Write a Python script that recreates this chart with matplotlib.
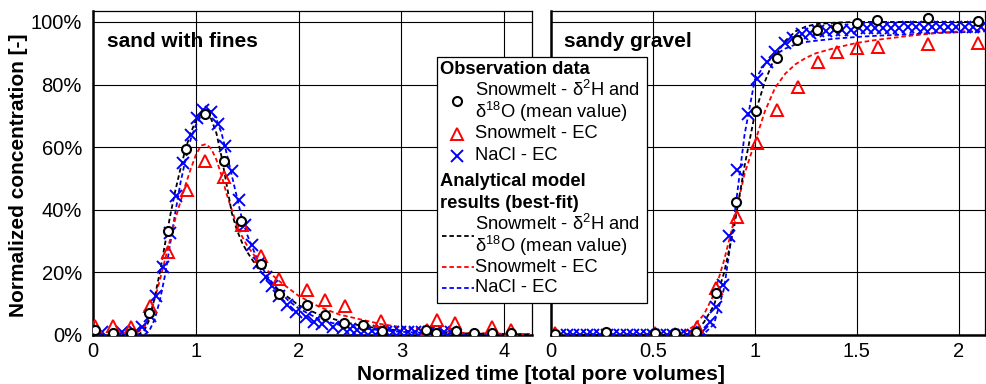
import matplotlib
matplotlib.use("Agg")
import matplotlib.pyplot as plt
from matplotlib.lines import Line2D
from matplotlib.patches import Rectangle
from matplotlib.ticker import PercentFormatter

plt.rcParams['font.family'] = ['Liberation Sans', 'DejaVu Sans']
plt.rcParams['mathtext.fontset'] = 'custom'
plt.rcParams['mathtext.rm'] = 'Liberation Sans'
plt.rcParams['mathtext.it'] = 'Liberation Sans'
plt.rcParams['mathtext.default'] = 'regular'

# 图像尺寸 (px)
FIG_W = 986
FIG_H = 384
TICK_FS = 14.5
LABEL_FS = 15
LEG_FS = 13.2

# ---------------- sand with fines ----------------
sf_iso_t = [0.02, 0.19, 0.37, 0.545, 0.727, 0.90, 1.087, 1.27, 1.44, 1.63, 1.81,
            2.08, 2.26, 2.44, 2.63, 2.81, 3.24, 3.34, 3.53, 3.71, 3.88, 4.07]
sf_iso_c = [1.5, 0.5, 0.5, 6.9, 33.3, 59.4, 70.5, 55.5, 36.3, 22.7, 13.1,
            9.6, 6.5, 3.9, 3.1, 1.4, 1.6, 0.7, 1.3, 0.5, 0.5, 0.5]

sf_ec_t = [0.02, 0.19, 0.37, 0.555, 0.733, 0.91, 1.093, 1.274, 1.446, 1.63, 1.81,
           2.085, 2.26, 2.45, 2.80, 3.25, 3.35, 3.52, 3.88, 4.07]
sf_ec_c = [3.0, 3.0, 2.7, 9.3, 26.6, 46.3, 55.6, 50.4, 35.1, 25.2, 17.8,
           14.4, 11.2, 9.3, 4.5, 1.5, 4.8, 3.9, 2.6, 1.5]

sf_nacl_t = [0.09, 0.28, 0.41, 0.48, 0.55, 0.61, 0.68, 0.75, 0.81, 0.88, 0.95, 1.01,
             1.07, 1.15, 1.22, 1.28, 1.35, 1.42, 1.48, 1.55, 1.61, 1.68, 1.74, 1.81,
             1.89, 1.97, 2.07, 2.15, 2.23, 2.33, 2.43, 2.50, 2.57, 2.64, 2.71, 2.78,
             2.85, 2.92, 2.99, 3.06, 3.13, 3.20, 3.27, 3.34, 3.41, 3.48]
sf_nacl_c = [1.0, 0.8, 1.0, 2.6, 6.0, 12.5, 21.7, 32.5, 44.4, 55.0, 63.9, 69.2,
             71.9, 71.3, 67.3, 60.4, 52.4, 43.1, 35.0, 28.8, 23.0, 18.5, 15.5, 12.5,
             9.6, 7.4, 5.6, 4.3, 3.5, 2.7, 2.1, 1.8, 1.6, 1.4, 1.3, 1.2,
             1.1, 1.0, 1.0, 1.0, 0.9, 0.9, 0.9, 0.8, 0.8, 0.8]

# best-fit curves
sf_fit_t = [0.0, 0.4, 0.45, 0.5, 0.55, 0.6, 0.65, 0.7, 0.75, 0.8, 0.85, 0.9, 0.95,
            1.0, 1.05, 1.1, 1.15, 1.2, 1.25, 1.3, 1.35, 1.4, 1.45, 1.5, 1.6, 1.7,
            1.8, 1.9, 2.0, 2.2, 2.4, 2.6, 2.8, 3.0, 3.3, 3.6, 4.0, 4.25]
sf_fit_iso = [0.0, 0.0, 0.3, 1.5, 5.0, 12.0, 20.0, 29.0, 38.0, 46.0, 53.0, 59.5, 64.5,
              68.5, 70.5, 70.8, 69.0, 64.5, 57.0, 48.0, 39.0, 33.5, 29.5, 26.5, 21.5, 17.5,
              14.5, 12.0, 9.5, 6.5, 4.5, 3.0, 2.0, 1.4, 0.8, 0.5, 0.3, 0.2]
sf_fit_ec = [0.0, 0.5, 1.2, 2.5, 6.0, 11.5, 17.5, 24.0, 30.5, 37.0, 42.5, 48.0, 53.0,
             57.5, 60.5, 61.0, 59.5, 56.0, 51.0, 45.0, 40.0, 35.0, 31.5, 28.5, 24.0, 20.5,
             17.5, 15.0, 12.5, 9.0, 6.5, 5.0, 3.5, 2.5, 1.5, 0.7, 0.4, 0.3]
sf_fit_nacl = [0.0, 0.0, 0.0, 0.0, 1.5, 5.0, 11.0, 19.0, 29.0, 39.0, 48.5, 56.0, 62.5,
               67.0, 70.0, 71.8, 71.5, 69.0, 64.5, 58.0, 51.0, 44.0, 37.0, 32.0, 24.0, 18.5,
               14.5, 11.0, 8.5, 5.0, 3.2, 2.2, 1.5, 1.0, 0.6, 0.4, 0.2, 0.1]

# ---------------- sandy gravel ----------------
sg_iso_t = [0.02, 0.27, 0.51, 0.61, 0.71, 0.81, 0.91, 1.007, 1.108, 1.207, 1.305,
            1.403, 1.50, 1.60, 1.85, 2.094]
sg_iso_c = [0.3, 1.0, 0.5, 0.5, 1.0, 13.5, 42.4, 71.6, 88.4, 94.2, 97.4,
            98.5, 99.8, 100.6, 101.4, 100.3]

sg_ec_t = [0.02, 0.51, 0.61, 0.715, 0.81, 0.912, 1.013, 1.11, 1.21, 1.308, 1.406,
           1.504, 1.604, 1.85, 2.096]
sg_ec_c = [0.5, 0.5, 0.3, 2.7, 15.0, 37.6, 61.2, 72.0, 79.1, 87.3, 90.5,
           91.8, 92.1, 92.9, 93.4]

sg_nacl_t = [0.044, 0.077, 0.11, 0.142, 0.175, 0.208, 0.24, 0.273, 0.306, 0.339, 0.371,
             0.404, 0.437, 0.469, 0.502, 0.535, 0.567, 0.60, 0.633, 0.666, 0.698, 0.74,
             0.78, 0.81, 0.843, 0.876, 0.915, 0.966, 1.013, 1.059, 1.10, 1.149, 1.19,
             1.23, 1.27, 1.31, 1.35, 1.39, 1.43, 1.47, 1.51, 1.55, 1.59, 1.63, 1.67,
             1.71, 1.75, 1.79, 1.83, 1.87, 1.91, 1.95, 1.99, 2.03, 2.07, 2.11]
sg_nacl_c = [0.0, 0.0, 0.0, 0.0, 0.0, 0.0, 0.0, 0.0, 0.0, 0.0, 0.0,
             0.0, 0.0, 0.0, 0.0, 0.0, 0.0, 0.0, 0.0, 0.0, 0.0, 1.0,
             4.3, 9.0, 16.0, 31.6, 52.7, 70.6, 81.8, 87.3, 90.5, 93.2, 95.0,
             96.0, 96.5, 97.0, 97.0, 97.5, 97.5, 97.5, 98.0, 98.0, 98.0, 98.0, 98.0,
             98.0, 98.5, 98.5, 98.0, 98.5, 98.5, 98.5, 98.5, 98.5, 98.5, 98.5]

sg_fit_t = [0.0, 0.6, 0.65, 0.7, 0.75, 0.8, 0.85, 0.9, 0.95, 1.0, 1.05, 1.1, 1.15,
            1.2, 1.25, 1.3, 1.4, 1.5, 1.6, 1.75, 1.9, 2.13]
sg_fit_iso = [0.0, 0.0, 0.0, 0.8, 4.0, 9.5, 20.0, 35.0, 54.0, 70.5, 81.0, 89.0, 94.0,
              97.0, 98.5, 99.3, 99.8, 100.0, 100.0, 100.0, 100.0, 100.0]
sg_fit_ec = [0.0, 0.0, 0.7, 2.8, 6.5, 13.0, 24.0, 37.0, 51.5, 61.5, 71.5, 79.0, 83.5,
             86.5, 88.5, 90.0, 91.8, 93.3, 94.3, 95.5, 96.5, 97.5]
sg_fit_nacl = [0.0, 0.0, 0.0, 0.0, 0.3, 3.5, 15.0, 38.0, 64.0, 81.5, 86.5, 89.5, 91.5,
               92.8, 93.6, 94.0, 94.7, 95.2, 95.6, 96.0, 96.5, 97.0]

sf_xticks = [0, 1, 2, 3, 4]
sg_xticks = [0, 0.5, 1, 1.5, 2]
y_ticks = [0, 20, 40, 60, 80, 100]

DASH = (0, (2.5, 1.6))


def px_box(x0, y0, x1, y1):
    # 像素坐标 -> figure 坐标
    return [x0 / FIG_W, 1 - y1 / FIG_H, (x1 - x0) / FIG_W, (y1 - y0) / FIG_H]


def draw_panel(ax, t_iso, c_iso, t_ec, c_ec, t_nacl, c_nacl,
               fit_t, fit_iso, fit_ec, fit_nacl, xlim, xticks, title):
    ax.plot(fit_t, fit_nacl, color='#0000ff', ls=DASH, lw=1.3, zorder=3)
    ax.plot(fit_t, fit_ec, color='#ff0000', ls=DASH, lw=1.3, zorder=3)
    ax.plot(fit_t, fit_iso, color='black', ls=DASH, lw=1.3, zorder=3)
    ax.plot(t_nacl, c_nacl, ls='none', marker='x', ms=8, mew=1.4,
            color='#0000ff', zorder=4)
    ax.plot(t_ec, c_ec, ls='none', marker='^', ms=8, mew=1.4,
            mec='#ff0000', mfc='none', zorder=5)
    ax.plot(t_iso, c_iso, ls='none', marker='o', ms=6.5, mew=1.5,
            mec='black', mfc='white', zorder=6)

    ax.set_xlim(*xlim)
    ax.set_ylim(0, 103.5)
    ax.set_xticks(xticks)
    ax.set_xticklabels([('%g' % v) for v in xticks])
    ax.set_yticks(y_ticks)
    ax.yaxis.set_major_formatter(PercentFormatter(decimals=0))
    ax.grid(True, color='black', lw=0.8)
    ax.set_axisbelow(True)
    ax.tick_params(length=0, labelsize=TICK_FS)
    ax.tick_params(axis='y', pad=8)
    ax.tick_params(axis='x', pad=5)
    for side in ['top', 'right']:
        ax.spines[side].set_linewidth(0.9)
    for side in ['left', 'bottom']:
        ax.spines[side].set_linewidth(1.8)
    ax.text(0.031, 0.905, title, transform=ax.transAxes, fontsize=LABEL_FS,
            fontweight='bold', ha='left', va='center')


fig = plt.figure(figsize=(FIG_W / 100, FIG_H / 100), dpi=100)

ax1 = fig.add_axes(px_box(93, 11, 532, 335))
draw_panel(ax1, sf_iso_t, sf_iso_c, sf_ec_t, sf_ec_c, sf_nacl_t, sf_nacl_c,
           sf_fit_t, sf_fit_iso, sf_fit_ec, sf_fit_nacl,
           (0, 4.27), sf_xticks, 'sand with fines')

ax2 = fig.add_axes(px_box(551, 11, 985, 335))
draw_panel(ax2, sg_iso_t, sg_iso_c, sg_ec_t, sg_ec_c, sg_nacl_t, sg_nacl_c,
           sg_fit_t, sg_fit_iso, sg_fit_ec, sg_fit_nacl,
           (0, 2.13), sg_xticks, 'sandy gravel')
ax2.set_yticklabels([])

fig.text(19 / FIG_W, 1 - 175 / FIG_H, 'Normalized concentration [-]', rotation=90,
         fontsize=LABEL_FS, fontweight='bold', ha='center', va='center')
fig.text(541 / FIG_W, 1 - 374 / FIG_H, 'Normalized time [total pore volumes]',
         fontsize=LABEL_FS, fontweight='bold', ha='center', va='center')

# ---------------- legend (drawn by hand) ----------------
def fx(x):
    return x / FIG_W


def fy(y):
    return 1 - y / FIG_H


fig.add_artist(Rectangle((fx(437), fy(303)), (647 - 437) / FIG_W, (303 - 57) / FIG_H,
                         transform=fig.transFigure, facecolor='white',
                         edgecolor='black', lw=0.9, zorder=10))

TXT_X = 475
HEAD_X = 440


def leg_text(y, s, bold=False, x=TXT_X):
    fig.text(fx(x), fy(y), s, fontsize=LEG_FS, ha='left', va='center',
             fontweight='bold' if bold else 'normal', zorder=11)


leg_text(70, 'Observation data', bold=True, x=HEAD_X)
leg_text(90, r'Snowmelt - δ$^{2}$H and')
leg_text(112, r'δ$^{18}$O (mean value)')
leg_text(134, 'Snowmelt - EC')
leg_text(156, 'NaCl - EC')
leg_text(181, 'Analytical model', bold=True, x=HEAD_X)
leg_text(203, 'results (best-fit)', bold=True, x=HEAD_X)
leg_text(224, r'Snowmelt - δ$^{2}$H and')
leg_text(246, r'δ$^{18}$O (mean value)')
leg_text(267, 'Snowmelt - EC')
leg_text(288, 'NaCl - EC')

fig.add_artist(Line2D([fx(457)], [fy(101)], marker='o', ms=6.5, mew=1.5, mec='black',
                      mfc='white', transform=fig.transFigure, zorder=11))
fig.add_artist(Line2D([fx(457)], [fy(134)], marker='^', ms=8, mew=1.4, mec='#ff0000',
                      mfc='none', transform=fig.transFigure, zorder=11))
fig.add_artist(Line2D([fx(457)], [fy(156)], marker='x', ms=8, mew=1.4, color='#0000ff',
                      transform=fig.transFigure, zorder=11))
for yy, col in [(236, 'black'), (267, '#ff0000'), (288, '#0000ff')]:
    fig.add_artist(Line2D([fx(442), fx(474)], [fy(yy), fy(yy)], color=col, ls=DASH,
                          lw=1.3, transform=fig.transFigure, zorder=11))

fig.savefig('out.png', dpi=100)
